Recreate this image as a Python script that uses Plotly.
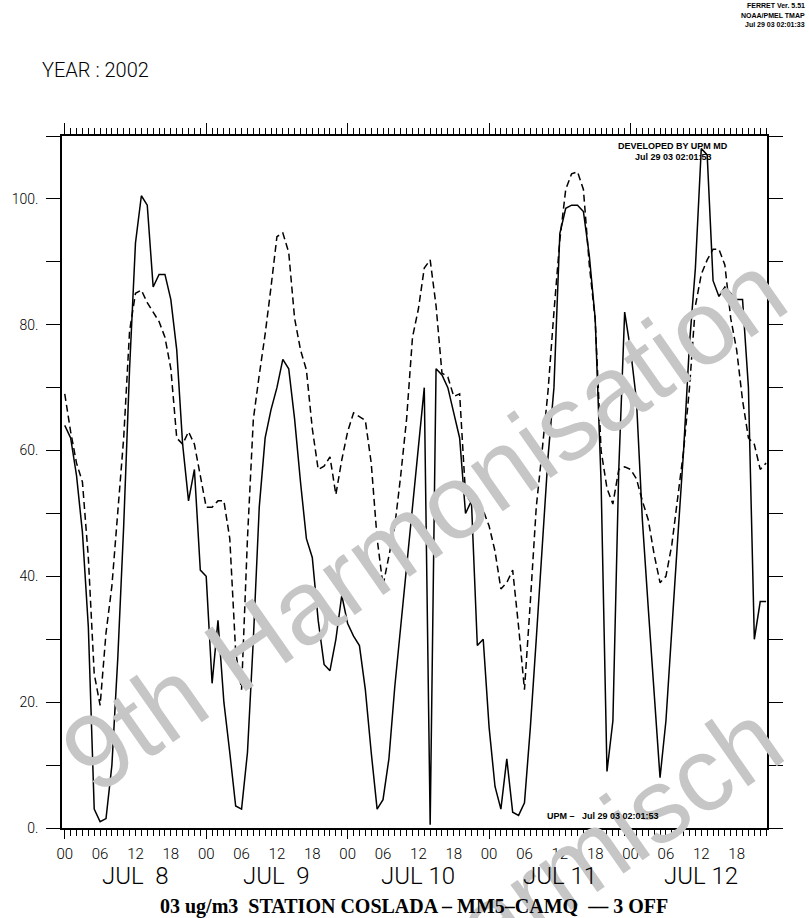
import pandas as pd
import plotly.graph_objects as go

# ---------------- data (hourly, starting Jul 8 2002 00h) ----------------
start = "2002-07-08 00:00"
n_hours = 120
observed = [64, 62, 56, 47, 32, 3, 1, 1.5, 10, 27, 48, 73, 93, 100.5, 99, 86, 88, 88, 84, 76, 61, 52, 57, 41,
            40, 23, 33, 20, 12, 3.5, 3, 12, 30, 51, 62, 66.5, 70, 74.5, 73, 65, 55, 46, 43, 33, 26, 25, 30, 37,
            32.5, 30.5, 29, 22, 12, 3, 4.5, 11, 22.5, 32, 41, 50, 60, 70, 0.5, 73, 72, 70, 66, 62, 50, 52, 29, 30,
            16, 6.6, 3, 11, 2.5, 2, 4, 16, 30, 44, 59, 70, 94.5, 98.5, 99, 99, 98, 91, 81, 55, 9, 17, 57, 82,
            76, 68, 49, 35, 21, 8, 17, 32, 46, 60, 77, 89, 108, 107, 87, 84.5, 86, 85, 84, 84, 70, 30, 36, 36]
model = [69, 63, 58, 55, 43, 24.5, 19.5, 31, 38.5, 51, 62, 79, 85, 85.5, 83.5, 82, 80.5, 78, 73, 62, 61, 63, 61, 56,
         51, 51, 52, 52, 46, 28, 22, 46, 65, 72, 78.5, 86, 94, 94.6, 91.5, 81, 76, 72.8, 63.5, 57, 57.5, 59, 53, 58.5,
         63, 66, 65.4, 64.8, 58, 46, 38.5, 43, 48, 56, 65, 78, 82.5, 89, 90.3, 83, 72.3, 71.7, 68.6, 69, 53, 51.7, 51, 50.5,
         48, 44, 38, 39, 41, 32, 22, 36, 51, 60, 69.5, 82, 93.5, 101.5, 104, 104.3, 101.5, 89.5, 80.8, 60, 54, 51.5, 57, 57.4,
         57, 55.5, 52, 49, 43.5, 39, 40, 45, 52.5, 60, 70, 83, 88, 90.3, 92, 92, 89.5, 81, 76, 68, 62, 61, 57, 58]
y_tick_values = list(range(0, 111, 10))
y_tick_labels = ["0.", "", "20.", "", "40.", "", "60.", "", "80.", "", "100.", ""]
hour_labels = ["00", "06", "12", "18"]
day_labels = ["JUL\u00a0\u00a08", "JUL\u00a0\u00a09", "JUL 10", "JUL 11", "JUL 12"]
title_text = "03 ug/m3\u00a0\u00a0STATION COSLADA \u2013 MM5\u2013CAMQ\u00a0\u00a0\u2013\u2013 3 OFF"
year_text = "YEAR\u00a0:\u00a02002"
ferret_lines = ["FERRET Ver. 5.51", "NOAA/PMEL TMAP", "Jul 29 03 02:01:33"]

times = pd.date_range(start, periods=n_hours, freq="h")
six_hourly = pd.date_range(start, periods=n_hours // 6, freq="6h")
days = pd.date_range(start, periods=5, freq="D")
x_range = [pd.Timestamp(start) - pd.Timedelta(minutes=28), pd.Timestamp(start) + pd.Timedelta(minutes=119 * 60 + 9)]

W, H = 809, 918
L, R, T, B = 62, 42, 136, 90
PW, PH = W - L - R, H - T - B


def px(xp):
    return (xp - L) / PW


def py(yp):
    return (H - B - yp) / PH


fig = go.Figure()
fig.add_trace(go.Scatter(x=times, y=observed, mode="lines", line=dict(color="black", width=1.5),
                         showlegend=False, hoverinfo="skip"))
fig.add_trace(go.Scatter(x=times, y=model, mode="lines", line=dict(color="black", width=1.5, dash="7px,4px"),
                         showlegend=False, hoverinfo="skip"))
# helper (invisible) traces so that the extra time axes are drawn
for ax in ("x2", "x3"):
    fig.add_trace(go.Scatter(x=times, y=model, xaxis=ax, mode="lines", opacity=0,
                             line=dict(width=0), showlegend=False, hoverinfo="skip"))

thin = dict(family="Roboto", weight=300, color="black")

fig.update_layout(
    width=W, height=H,
    margin=dict(l=L, r=R, t=T, b=B, autoexpand=False),
    paper_bgcolor="white", plot_bgcolor="white",
    xaxis=dict(
        type="date", range=x_range, showgrid=False, zeroline=False,
        showline=True, linecolor="black", linewidth=1.5,
        tickmode="array", tickvals=six_hourly,
        ticktext=[hour_labels[i % 4] for i in range(len(six_hourly))],
        ticks="outside", ticklen=6, tickwidth=1, tickcolor="black",
        ticklabelstandoff=5, tickfont=dict(size=15, **thin),
        minor=dict(dtick=3600000, ticks="outside", ticklen=6, tickwidth=1, tickcolor="black", showgrid=False),
    ),
    xaxis2=dict(
        type="date", range=x_range, overlaying="x", side="top", anchor="y",
        showgrid=False, zeroline=False, showline=True, linecolor="black", linewidth=1.5,
        tickmode="array", tickvals=days, showticklabels=False,
        ticks="outside", ticklen=11, tickwidth=1, tickcolor="black",
        minor=dict(dtick=3600000, ticks="outside", ticklen=6, tickwidth=1, tickcolor="black", showgrid=False),
    ),
    xaxis3=dict(
        type="date", range=x_range, overlaying="x", side="bottom", anchor="y",
        showgrid=False, zeroline=False, showline=False,
        tickmode="array", tickvals=days, showticklabels=False,
        ticks="outside", ticklen=10, tickwidth=1, tickcolor="black",
    ),
    yaxis=dict(
        range=[0, 110], showgrid=False, zeroline=False,
        showline=True, linecolor="black", linewidth=1.5, mirror="ticks",
        tickmode="array", tickvals=y_tick_values, ticktext=y_tick_labels,
        ticks="outside", ticklen=14, tickwidth=1.2, tickcolor="black",
        ticklabelstandoff=5, tickfont=dict(size=14, **thin),
    ),
)

ann = []
# watermark
for txt, cx, cy in (("9th Harmonisation", 423, 522), ("Garmisch", 584, 856)):
    ann.append(dict(text=txt, x=px(cx), y=py(cy), xref="paper", yref="paper",
                    showarrow=False, textangle=-35, xanchor="center", yanchor="middle",
                    font=dict(family="Liberation Sans", size=105, color="#c6c6c6")))
# day labels under the time axis
for d, lab in zip(days, day_labels):
    ann.append(dict(text=lab, x=d + pd.Timedelta(hours=12), y=py(876), xref="x", yref="paper",
                    showarrow=False, xanchor="center", yanchor="middle",
                    font=dict(size=24, **thin)))
ann.append(dict(text=title_text, x=px(414), y=py(906), xref="paper", yref="paper", showarrow=False,
                xanchor="center", yanchor="middle",
                font=dict(family="Liberation Serif", size=20, weight="bold", color="black")))
ann.append(dict(text=year_text, x=px(40), y=py(70), xref="paper", yref="paper", showarrow=False,
                xanchor="left", yanchor="middle",
                font=dict(size=20, **thin)))
for i, line in enumerate(ferret_lines):
    ann.append(dict(text="<b>" + line + "</b>", x=px(807), y=py(6 + 9 * i),
                    xref="paper", yref="paper", showarrow=False, xanchor="right", yanchor="middle",
                    font=dict(family="Liberation Sans", size=7, color="black")))
ann.append(dict(text="<b>DEVELOPED BY UPM MD</b>", x=px(673), y=py(146), xref="paper",
                yref="paper", showarrow=False, xanchor="center", yanchor="middle",
                font=dict(family="Liberation Sans", size=9, color="black")))
ann.append(dict(text="<b>Jul 29 03 02:01:53</b>", x=px(673), y=py(157), xref="paper",
                yref="paper", showarrow=False, xanchor="center", yanchor="middle",
                font=dict(family="Liberation Sans", size=9, color="black")))
ann.append(dict(text="<b>UPM \u2013\u00a0\u00a0\u00a0Jul 29 03 02:01:53</b>", x=px(545), y=py(816), xref="paper",
                yref="paper", showarrow=False, xanchor="left", yanchor="middle",
                font=dict(family="Liberation Sans", size=9, color="black")))
fig.update_layout(annotations=ann)

fig.write_html("out.html", config={"displayModeBar": False},
               post_script="document.body.style.margin='0';")
